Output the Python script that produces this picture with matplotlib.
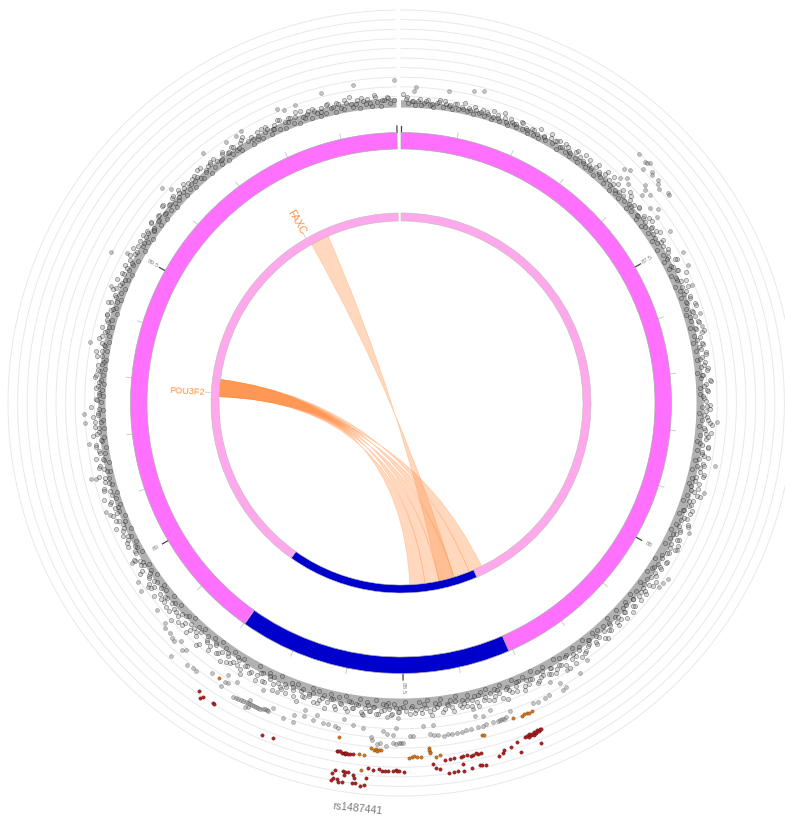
import matplotlib
matplotlib.use("Agg")
import matplotlib.pyplot as plt
import numpy as np
from matplotlib.patches import Wedge, PathPatch
from matplotlib.path import Path

plt.rcParams['font.family'] = ['Liberation Sans', 'DejaVu Sans']

# region, Mb
ticks_mb = [87.0,87.1,87.2,87.3,87.4,87.5,87.6,87.7,87.8,87.9,88.0,88.1,88.2,88.3,88.4,88.5,
            88.6,88.7,88.8,88.9,89.0,89.1,89.2,89.3,89.4,89.5,89.6,89.7,89.8,89.9,90.0]
tick_labels = {87.5:"87.5", 88.0:"88", 88.5:"88.5", 89.0:"89", 89.5:"89.5"}
y_rings = [0,1,2,3,4,5,6,7,8,9,10]

# ideogram segments, degrees clockwise from top
seg_start = [0.0, 156.5, 215.3]
seg_end = [156.5, 215.3, 359.15]
seg_outer = ["#FF70FF", "#0000CC", "#FF70FF"]
seg_inner = ["#FFA8EC", "#0000CC", "#FFA8EC"]

# links
genes = ["POU3F2", "FAXC"]
gene_angle = [273.2, 330.0]
gene_size = [6.6, 7.4]
link_src = [(272.0,277.4),(272.0,277.4),(272.0,277.4),(272.0,277.4),(272.0,277.4),(330.6,336.4)]
link_tgt = [(177.2,172.4),(172.4,167.9),(167.9,163.1),(163.1,158.0),(158.0,153.7),(167.9,163.1)]

# dense base of the track, thickness per sector
core_deg = [0,10,20,30,40,50,60,70,80,90,100,110,120,130,140,150,160,170,180,190,200,210,220,230,240,250,260,270,280,290,300,310,320,330,340,350,359]
core_val = [.6,.5,.5,.6,.7,.7,.8,.8,.6,.6,.7,.8,.8,.8,.8,.7,.8,.9,1.0,.9,.8,.7,.7,.7,.6,.6,.6,.6,.6,.7,.7,.8,.7,.7,.8,.8,.8]

band_deg = [0.3,0.9,1.4,2.1,2.6,3.3,3.8,4.4,5.1,5.6,6.2,6.9,7.3,8.0,8.6,9.1,9.8,10.3,10.9,11.6,12.0,12.7,13.2,13.9,14.4,15.1,15.6,16.2,16.8,17.5,17.9,18.6,19.2,19.7,20.4,20.9,21.6,22.1,22.7,23.4,23.8,24.5,25.1,25.6,26.3,26.8,27.4,28.1,28.6,29.3,
    30.2,30.7,31.4,31.9,32.5,33.2,33.6,34.3,34.9,35.4,36.1,36.6,37.2,37.9,38.3,39.0,39.6,40.1,40.8,41.3,41.9,42.6,43.0,43.7,44.3,44.8,45.5,46.0,46.6,47.3,47.7,48.4,49.0,49.5,50.2,50.7,51.4,51.9,52.5,53.2,53.6,54.3,54.9,55.4,56.1,56.6,57.2,57.9,58.3,59.2,
    60.1,60.6,61.3,61.8,62.4,63.1,63.5,64.2,64.8,65.3,66.0,66.5,67.1,67.8,68.2,68.9,69.5,70.0,70.7,71.2,71.8,72.5,72.9,73.6,74.2,74.7,75.4,75.9,76.5,77.2,77.6,78.3,78.9,79.4,80.1,80.6,81.3,81.8,82.4,83.1,83.5,84.2,84.8,85.3,86.0,86.5,87.1,87.8,88.2,89.1,
    90.4,90.8,91.5,92.0,92.6,93.3,93.7,94.4,95.0,95.5,96.2,96.7,97.3,98.0,98.4,99.1,99.7,100.2,100.9,101.4,102.0,102.7,103.1,103.8,104.4,104.9,105.6,106.1,106.7,107.4,107.8,108.5,109.1,109.6,110.3,110.8,111.5,112.0,112.6,113.3,113.7,114.4,115.0,115.5,116.2,116.7,117.3,118.0,118.4,119.2,
    120.3,120.9,121.4,122.1,122.6,123.3,123.8,124.4,125.1,125.6,126.2,126.9,127.3,128.0,128.6,129.1,129.8,130.3,130.9,131.6,132.0,132.7,133.2,133.9,134.4,135.1,135.6,136.2,136.8,137.5,137.9,138.6,139.2,139.7,140.4,140.9,141.6,142.1,142.7,143.4,143.8,144.5,145.1,145.6,146.3,146.8,147.4,148.1,148.6,149.3,
    150.2,150.7,151.4,151.9,152.5,153.2,153.6,154.3,154.9,155.4,156.1,156.6,157.2,157.9,158.3,159.0,159.6,160.1,160.8,161.3,161.9,162.6,163.0,163.7,164.3,164.8,165.5,166.0,166.6,167.3,167.7,168.4,169.0,169.5,170.2,170.7,171.4,171.9,172.5,173.2,173.6,174.3,174.9,175.4,176.1,176.6,177.2,177.9,178.3,179.2,
    180.1,180.6,181.3,181.8,182.4,183.1,183.5,184.2,184.8,185.3,186.0,186.5,187.1,187.8,188.2,188.9,189.5,190.0,190.7,191.2,191.8,192.5,192.9,193.6,194.2,194.7,195.4,195.9,196.5,197.2,197.6,198.3,198.9,199.4,200.1,200.6,201.3,201.8,202.4,203.1,203.5,204.2,204.8,205.3,206.0,206.5,207.1,207.8,208.2,209.1,
    210.4,210.8,211.5,212.0,212.6,213.3,213.7,214.4,215.0,215.5,216.2,216.7,217.3,218.0,218.4,219.1,219.7,220.2,220.9,221.4,222.0,222.7,223.1,223.8,224.4,224.9,225.6,226.1,226.7,227.4,227.8,228.5,229.1,229.6,230.3,230.8,231.5,232.0,232.6,233.3,233.7,234.4,235.0,235.5,236.2,236.7,237.3,238.0,238.4,239.2,
    240.3,240.9,241.4,242.1,242.6,243.3,243.8,244.4,245.1,245.6,246.2,246.9,247.3,248.0,248.6,249.1,249.8,250.3,250.9,251.6,252.0,252.7,253.2,253.9,254.4,255.1,255.6,256.2,256.8,257.5,257.9,258.6,259.2,259.7,260.4,260.9,261.6,262.1,262.7,263.4,263.8,264.5,265.1,265.6,266.3,266.8,267.4,268.1,268.6,269.3,
    270.2,270.7,271.4,271.9,272.5,273.2,273.6,274.3,274.9,275.4,276.1,276.6,277.2,277.9,278.3,279.0,279.6,280.1,280.8,281.3,281.9,282.6,283.0,283.7,284.3,284.8,285.5,286.0,286.6,287.3,287.7,288.4,289.0,289.5,290.2,290.7,291.4,291.9,292.5,293.2,293.6,294.3,294.9,295.4,296.1,296.6,297.2,297.9,298.3,299.2,
    300.1,300.6,301.3,301.8,302.4,303.1,303.5,304.2,304.8,305.3,306.0,306.5,307.1,307.8,308.2,308.9,309.5,310.0,310.7,311.2,311.8,312.5,312.9,313.6,314.2,314.7,315.4,315.9,316.5,317.2,317.6,318.3,318.9,319.4,320.1,320.6,321.3,321.8,322.4,323.1,323.5,324.2,324.8,325.3,326.0,326.5,327.1,327.8,328.2,329.1,
    330.4,330.8,331.5,332.0,332.6,333.3,333.7,334.4,335.0,335.5,336.2,336.7,337.3,338.0,338.4,339.1,339.7,340.2,340.9,341.4,342.0,342.7,343.1,343.8,344.4,344.9,345.6,346.1,346.7,347.4,347.8,348.5,349.1,349.6,350.3,350.8,351.5,352.0,352.6,353.3,353.7,354.4,355.0,355.5,356.2,356.7,357.3,357.9,358.3,358.9]
band_val = [1.3,.7,.3,.5,.1,.6,.2,.4,.8,.3,.1,.5,.9,.2,.6,.4,.1,.7,.3,.5,1.0,.2,.4,.1,.6,.3,.8,.2,.5,.1,.4,.7,.2,1.1,.3,.1,.6,.4,.2,.9,.3,.5,.1,.7,.2,.4,.1,.6,.3,1.2,
    .4,.8,.1,.5,1.1,.3,.6,.2,.9,.4,.1,1.3,.5,.2,.7,.3,1.0,.1,.6,.4,1.4,.2,.8,.5,.1,1.2,.3,.7,.2,1.5,.4,.9,.1,.6,.3,1.1,.5,.2,.8,1.3,.1,.4,1.0,.3,.7,1.4,.2,.5,.9,.1,
    1.2,.4,.8,.1,1.5,.6,.3,1.0,.2,1.7,.5,.9,.1,1.3,.4,.7,.2,1.1,.6,1.4,.3,.8,.1,1.0,.5,1.2,.2,.7,1.5,.4,.9,.1,1.1,.6,.3,1.3,.8,.2,1.0,.5,1.2,.1,.7,.4,1.4,.9,.3,1.1,.2,.6,1.3,.4,.8,.1,
    1.0,.5,1.3,.2,.8,1.5,.4,1.1,.1,.7,1.4,.3,.9,1.6,.2,1.2,.6,.1,1.0,1.5,.4,.8,.2,1.3,.6,1.7,.3,1.1,.1,.9,1.4,.5,.2,1.2,.7,1.6,.3,1.0,.1,.8,1.3,.4,1.5,.2,.9,1.1,.5,1.4,.1,.7,
    1.2,.3,.9,.1,1.5,.6,1.1,.2,.8,1.4,.4,1.0,.1,.7,1.3,.3,1.6,.5,.9,.2,1.2,.6,1.5,.1,.8,1.1,.4,1.7,.3,1.0,.2,1.4,.6,.9,.1,1.3,.5,1.6,.2,.8,1.1,.4,1.8,.3,1.0,.1,1.5,.7,1.2,.2,
    1.0,.4,1.4,.1,.8,1.2,.3,1.6,.5,.9,.1,1.3,.6,1.8,.2,1.0,.4,1.5,.7,.1,1.2,.3,1.7,.5,.9,.2,1.4,.6,1.1,.1,1.6,.4,.8,1.3,.2,1.0,.5,1.7,.1,.9,1.4,.3,1.1,.6,1.5,.2,.8,1.2,.4,1.6,
    .3,1.1,.5,1.5,.1,.9,1.3,.4,1.7,.2,.8,1.2,.6,1.6,.1,1.0,.4,1.4,.7,.2,1.8,.5,1.1,.3,1.5,.1,.9,1.3,.6,2.0,.2,1.0,.4,1.6,.7,1.2,.1,1.8,.5,.9,.3,1.4,.6,1.7,.2,1.1,.8,1.9,.3,1.3,
    .5,1.5,.2,1.0,1.9,.4,1.3,.1,.8,1.7,.3,1.1,.6,2.1,.2,1.4,.5,.9,1.8,.1,1.2,.4,1.6,.7,2.0,.2,1.0,.5,1.5,.1,.8,1.3,.4,1.7,.2,1.1,.6,1.4,.1,.9,.4,1.6,.2,1.0,.6,1.3,.1,.8,.4,1.2,
    .2,.9,.4,1.2,.1,.7,1.5,.3,.9,.1,1.3,.5,.8,.2,1.1,.4,1.6,.1,.7,1.3,.3,1.0,.5,1.5,.2,.8,1.2,.1,.6,1.4,.3,.9,.1,1.1,.5,.2,1.3,.7,.1,1.0,.4,.2,1.2,.6,.1,1.4,.3,.8,.1,.5,
    .2,.7,.1,.4,1.1,.2,.6,.1,.9,.3,.1,.6,1.3,.2,.5,.8,.1,1.0,.3,.6,1.2,.2,.7,.4,1.0,.1,.8,.3,1.3,.5,.1,.9,.4,1.1,.2,.7,1.4,.3,.9,.1,.6,1.2,.4,1.0,.2,.8,1.3,.1,.5,1.1,
    .3,.8,.1,1.0,.4,.6,1.2,.2,.7,1.0,.1,.5,1.3,.3,.8,.1,1.1,.4,.6,1.2,.2,.9,.3,1.0,.1,.6,1.1,.4,.2,1.3,.7,.1,.9,.4,1.2,.2,.6,1.0,.1,.8,.3,1.1,.5,.2,.9,1.3,.1,.6,.3,1.0,
    .2,.7,1.1,.1,.5,.9,.3,1.2,.1,.6,1.0,.3,.8,.1,1.3,.4,.7,.2,1.1,.5,.1,.9,.3,1.2,.6,.1,1.0,.4,.2,.8,1.4,.3,.6,.1,1.1,.4,.9,.2,1.3,.5,.1,.7,1.0,.3]

# second pass over the thick part of the band
band2_deg = [1.1,2.3,3.6,4.8,5.9,7.1,8.3,9.4,10.6,11.8,13.0,14.1,15.3,16.5,17.7,18.8,20.0,21.2,22.4,23.5,24.7,25.9,27.1,28.3,29.4,
    30.5,31.2,32.2,33.1,34.0,35.1,36.0,37.0,37.8,38.9,39.8,40.6,41.6,42.4,43.3,44.1,45.1,46.2,47.0,47.9,48.8,49.7,50.5,51.6,52.3,53.4,54.1,55.0,56.0,57.0,58.0,59.0,
    60.4,61.5,62.2,63.4,64.4,65.5,66.7,67.5,68.6,69.7,70.5,71.6,72.7,73.5,74.6,75.7,76.7,77.9,78.7,79.8,80.9,81.7,82.8,83.9,84.6,85.7,86.8,87.5,88.7,89.7,
    90.6,91.2,92.3,93.1,94.0,94.8,95.8,96.4,97.6,98.2,99.3,100.0,100.6,101.7,102.3,103.4,104.1,105.2,105.9,106.9,107.5,108.8,109.3,110.6,111.1,112.2,113.0,113.9,114.7,115.8,116.4,117.6,118.2,119.4,
    120.6,121.1,122.3,123.0,124.1,124.8,125.9,126.6,127.6,128.3,129.4,130.1,131.2,131.9,133.0,133.6,134.7,135.4,136.5,137.2,138.3,139.0,140.1,140.7,141.8,142.5,143.6,144.3,145.4,146.0,147.1,147.8,148.9,149.6,
    150.4,151.1,152.2,152.9,153.9,154.6,155.7,156.3,157.5,158.1,159.3,159.9,161.0,161.6,162.3,163.4,164.1,165.2,165.8,166.9,167.5,168.1,168.7,169.8,170.4,171.1,172.2,172.8,173.9,174.6,175.7,176.3,177.5,178.1,179.0,179.6,
    180.4,181.0,181.6,182.2,182.8,183.7,184.5,185.0,185.7,186.3,186.8,187.4,188.5,189.2,189.8,190.4,191.5,192.2,193.3,193.9,195.0,195.7,196.8,197.4,198.6,199.2,200.3,200.9,202.0,202.7,203.8,204.5,205.6,206.2,207.4,208.0,209.4,
    210.6,211.2,212.3,213.0,214.1,214.7,215.8,216.5,217.6,218.2,219.3,220.0,221.1,221.8,222.9,223.5,224.6,225.3,226.4,227.1,228.2,228.8,229.9,230.6,231.7,232.4,233.5,234.2,235.2,235.9,237.0,237.7,238.8,239.5,
    240.6,241.8,242.9,244.1,245.3,246.5,247.6,248.8,249.9,251.1,252.3,253.5,254.7,255.8,257.0,258.1,259.3,260.6,261.8,263.0,264.1,265.3,266.5,267.7,268.9,
    270.5,271.6,272.8,274.0,275.2,276.3,277.5,278.7,279.8,281.0,282.2,283.4,284.5,285.7,286.9,288.1,289.2,290.4,291.6,292.8,294.0,295.1,296.3,297.5,298.7,299.8,
    300.8,301.9,303.0,303.9,305.0,305.8,306.9,307.6,308.7,309.7,310.5,311.5,312.2,313.3,314.0,315.1,316.2,316.9,318.0,318.7,319.8,320.9,321.6,322.7,323.8,324.5,325.6,326.7,327.5,328.6,329.7,
    330.6,331.8,332.9,334.0,335.2,336.4,337.6,338.7,339.9,341.1,342.3,343.5,344.6,345.8,347.0,348.2,349.3,350.5,351.7,352.9,354.1,355.2,356.4,357.6,358.7]
band2_val = [.9,.5,.8,.6,.4,.7,.9,.5,.8,.4,.6,.9,.5,.7,1.0,.4,.6,.8,.5,.9,.4,.7,1.1,.5,.8,
    .7,1.0,.6,.9,.5,1.2,.8,.6,1.1,.5,1.3,.7,1.0,.6,1.4,.8,.5,1.1,.7,1.3,.6,.9,1.2,.5,1.0,.7,1.4,.8,1.1,.6,1.2,.9,
    1.0,.6,1.3,.8,1.1,.5,1.4,.7,1.0,1.2,.6,1.5,.9,.5,1.1,.7,1.3,.6,1.0,.8,1.2,.5,.9,1.1,.6,1.3,.7,1.0,.5,.8,
    .9,1.3,.6,1.1,1.5,.7,1.0,1.2,.5,1.4,.8,1.1,.6,1.3,.9,1.5,.7,1.2,.5,1.0,1.4,.8,1.1,.6,1.3,.9,1.5,.7,1.1,.5,1.2,.8,1.4,.9,
    .7,1.3,1.0,.5,1.2,.8,1.5,.6,1.1,.9,1.4,.7,1.2,.5,1.0,1.6,.8,1.1,.6,1.3,.9,1.5,.7,1.2,.5,1.0,1.4,.8,1.1,1.7,.6,1.3,.9,1.2,
    .8,1.3,.6,1.1,1.5,.9,.7,1.2,.5,1.4,1.0,.8,1.6,.6,1.1,1.3,.9,.5,1.2,1.5,.7,1.0,1.4,.6,1.2,.9,1.6,.7,1.1,1.3,.5,1.0,1.4,.8,1.2,.7,
    1.3,.8,1.5,1.0,.6,1.2,1.6,.9,1.3,.7,1.1,1.5,.8,1.2,.6,1.4,1.0,1.7,.7,1.2,.9,1.5,.6,1.1,1.3,.8,1.6,.7,1.0,1.4,.9,1.2,.6,1.5,.8,1.1,1.3,
    .9,1.4,.7,1.2,1.6,.8,1.0,1.5,.6,1.3,.9,1.8,.7,1.1,1.4,.8,1.6,.6,1.2,1.0,1.5,.7,1.3,.9,1.1,.6,1.4,.8,1.0,.6,1.2,.7,.9,1.3,
    .8,.5,1.1,.7,.9,.6,1.2,.8,.5,1.0,.7,1.3,.6,.9,.5,1.1,.7,.8,1.2,.5,.9,.6,1.0,.7,.5,
    .7,.5,.9,.6,1.0,.8,.5,1.1,.7,.6,1.2,.8,.5,.9,1.1,.6,1.0,.7,1.3,.8,.5,1.1,.9,.6,1.2,.7,
    .9,.6,1.1,.8,.5,1.2,.7,1.0,.6,1.3,.8,.5,1.1,.9,.7,1.2,.6,1.0,.8,1.3,.5,.9,1.1,.7,.6,1.2,.8,1.0,.5,1.1,.7,
    .9,.6,1.1,.8,.5,1.2,.7,.9,1.3,.6,1.0,.8,.5,1.1,.7,.9,1.2,.6,1.0,.8,.5,1.1,.7,.9,.6]

# single points standing off the band
gray_deg = [358.8,351.4,345.5,8.8,13.2,14.9,2.8,2.4,43.7,45.4,46.0,45.7,46.0,47.3,47.8,49.1,49.6,50.4,51.8,52.1,48.9,50.1,49.2,48.2,43.6,44.5,44.2,46.0,45.1,51.9,54.0,53.0,57.4,61.8,64.3,67.9,73.2,75.6,101.3,93.4,106.5,114.3,118.0,123.4,124.5,125.5,
    229.7,227.0,226.4,225.1,224.3,223.6,222.8,221.6,221.1,222.2,219.2,218.1,217.5,215.0,211.7,212.4,268.0,266.4,262.5,256.2,256.0,249.8,248.9,239.2,235.8,234.1,234.0,297.5,281.0,298.7,292.0,321.6,312.0,312.9,326.2,328.3,329.5,337.1,338.2,340.4,
    209.7,209.2,208.8,208.3,207.9,207.4,207.0,206.6,206.3,205.9,205.5,205.1,204.7,204.3,204.0,203.6,203.3,207.2,206.8,
    200.5,198.7,197.3,195.5,193.6,192.8,191.5,191.0,188.4,186.6,185.2,184.9,184.1,183.6,182.5,181.4,180.9,180.4,180.0,179.6,183.1,182.4,181.3,178.5,177.9,175.0,174.4,173.6,172.7,172.0,171.2,170.4,169.5,168.8,167.9,166.6,165.8,165.2,163.9,163.1,162.7,162.3,161.9,161.5,156.2,155.4,154.0,153.1,150.5,149.8,
    165.3,160.6,166.7,163.8,166.7,174.3,176.1,180.8,180.5,182.6,186.9,190.3,195.1,197.4,199.0,202.7,203.3,205.7,207.0,210.5,212.3,212.4,151.9,148.2,146.5,144.2,150.4]
gray_val = [2.7,2.6,2.4,1.9,2.4,2.7,2.0,1.6,4.9,4.8,5.1,4.9,4.1,4.6,4.4,4.5,4.2,4.0,4.4,4.4,2.8,2.9,2.2,3.2,2.7,3.1,1.8,1.9,2.3,2.0,2.0,2.6,2.3,2.4,2.2,1.8,1.6,1.4,2.4,2.0,2.0,2.0,1.6,2.4,2.2,2.1,
    2.4,2.7,3.0,3.0,3.2,3.3,2.8,3.4,3.2,4.7,4.3,4.1,4.2,3.4,3.3,4.0,2.1,2.0,1.8,2.3,1.8,1.8,1.5,1.7,2.2,2.5,1.6,3.1,2.1,1.6,1.6,2.3,2.5,1.8,1.8,1.8,2.0,2.3,1.9,2.0,
    4.3,4.3,4.2,4.2,4.2,4.2,4.1,4.1,4.2,4.1,4.1,4.1,4.1,4.0,4.0,4.0,4.0,4.7,4.5,
    4.1,4.1,3.2,3.3,3.4,3.3,3.4,3.5,3.0,3.1,4.0,4.3,4.7,4.6,4.8,4.5,4.6,4.5,4.5,4.5,3.3,3.6,3.7,3.75,3.8,3.7,3.8,3.9,4.0,3.9,3.9,3.9,3.9,3.8,3.8,3.8,3.8,3.7,3.7,3.7,3.7,3.6,3.7,3.6,3.2,3.3,3.3,3.2,3.4,3.3,
    2.8,3.1,2.6,2.4,1.8,2.8,2.8,2.9,1.9,1.8,1.8,2.5,2.7,2.6,3.4,3.5,1.8,2.2,3.8,2.8,3.4,2.6,2.0,1.8,2.8,2.1,2.6]

orange_deg = [190.5,184.9,184.5,184.2,183.9,183.6,183.3,186.8,186.0,186.2,178.7,178.3,177.9,177.4,176.7,175.3,175.4,175.2,175.3,174.3,173.7,166.3,165.9,160.4,158.9,158.4,157.9,157.5,157.0,213.5]
orange_val = [4.4,5.1,5.3,5.2,5.4,5.3,5.3,5.9,5.9,7.5,6.0,6.0,5.9,6.0,6.0,5.1,5.3,5.5,5.6,6.1,5.9,4.7,4.7,3.9,4.0,3.9,3.9,4.0,3.9,3.4]

red_deg = [215.1,214.3,214.0,212.1,211.8,202.7,200.9,
    190.5,190.2,189.9,189.6,189.3,189.1,189.0,188.9,188.6,188.3,187.7,
    185.1,184.3,183.5,183.0,182.5,182.0,181.2,180.8,180.7,180.3,179.6,
    190.2,190.5,189.0,188.6,188.1,188.7,187.4,187.2,190.2,190.5,189.7,189.5,188.8,187.4,186.9,186.1,185.5,185.3,
    173.0,172.2,171.5,170.4,170.0,169.4,168.8,168.4,167.9,167.6,167.2,
    172.6,171.8,171.2,170.3,170.3,169.0,167.7,167.4,166.8,175.0,174.6,173.9,
    164.4,163.7,163.5,162.2,161.2,161.0,157.6,
    159.6,159.3,159.0,158.9,158.6,158.4,158.2,158.0,157.8,157.6,157.4,157.2,157.0,156.8]
red_val = [5.7,6.2,6.0,5.9,6.0,6.6,6.4,
    5.9,5.9,5.9,6.0,6.0,6.0,6.1,6.0,6.0,6.0,6.0,
    7.2,7.4,7.3,7.4,7.4,7.4,7.4,7.3,7.4,7.4,7.5,
    7.9,8.3,7.9,7.9,7.9,8.3,8.1,8.4,8.8,9.0,8.8,9.1,9.0,9.0,8.9,9.2,9.0,8.3,
    6.5,6.5,6.5,6.5,6.4,6.4,6.5,6.5,6.4,6.5,6.5,
    7.9,7.9,7.9,7.9,7.2,7.8,7.7,7.7,7.8,6.8,7.3,7.4,
    7.2,7.0,6.8,6.7,6.4,7.5,7.4,
    6.2,6.1,6.3,6.0,6.2,6.1,6.3,6.0,6.2,6.1,6.0,6.1,6.0,6.0]

lead_snp = "rs1487441"
lead_deg = 186.2

# layout, px
r_track = 297
r_unit = 9.6
ideo_r = (254, 270.5)
link_r = (182, 190)


def xy(deg, r):
    t = np.radians(np.asarray(deg))
    return r * np.sin(t), r * np.cos(t)


def arc(a, b, r):
    return np.array(xy(np.linspace(a, b, 30), r)).T


def radial_rot(deg):
    rot = 90 - deg
    return rot + 180 if 180 < deg < 360 else rot


def track_xy(deg, val):
    n = min(len(deg), len(val))
    return xy(deg[:n], r_track + r_unit * np.array(val[:n]))


fig = plt.figure(figsize=(7.85, 8.21), dpi=100)
ax = fig.add_axes([0, 0, 1, 1])
ax.set_xlim(-401, 384)
ax.set_ylim(-418, 403)
ax.axis('off')

for v in y_rings[1:]:
    x, y = xy(np.linspace(0, 359.15, 400), r_track + r_unit * v)
    ax.plot(x, y, color="#E8E8E8", lw=0.7, zorder=1)

for a, b, c1, c2 in zip(seg_start, seg_end, seg_outer, seg_inner):
    ax.add_patch(Wedge((0, 0), ideo_r[1], 90 - b, 90 - a, width=ideo_r[1] - ideo_r[0],
                       facecolor=c1, edgecolor="#AAAAAA", lw=0.5, zorder=3))
    ax.add_patch(Wedge((0, 0), link_r[1], 90 - b, 90 - a, width=link_r[1] - link_r[0],
                       facecolor=c2, edgecolor="#BBBBBB", lw=0.4, zorder=3))

for mb in ticks_mb:
    a = (mb - 87) * 359.15 / 3
    major = mb in tick_labels or mb in (87.0, 90.0)
    x, y = xy([a, a], np.array([ideo_r[1], ideo_r[1] + (6.5 if major else 5.5)]))
    ax.plot(x, y, color="#444444" if major else "#CCCCCC", lw=0.9 if major else 0.7, zorder=2)
    if mb in tick_labels:
        x, y = xy(a, 285)
        ax.text(x, y, tick_labels[mb], fontsize=4.6, color="#888888", rotation=radial_rot(a),
                rotation_mode='anchor', ha='center', va='center', zorder=4)

# links
for (s1, s2), (t1, t2) in zip(link_src, link_tgt):
    r = link_r[0]
    verts = list(arc(s1, s2, r))
    codes = [Path.MOVETO] + [Path.LINETO] * (len(verts) - 1)
    verts += [(0, 0), xy(t1, r)]
    codes += [Path.CURVE3, Path.CURVE3]
    verts += list(arc(t1, t2, r))[1:]
    codes += [Path.LINETO] * 29
    verts += [(0, 0), xy(s1, r)]
    codes += [Path.CURVE3, Path.CURVE3]
    ax.add_patch(PathPatch(Path(verts, codes), facecolor="#FF8A3C", edgecolor="#FF8A3C",
                           alpha=0.33, lw=0.5, zorder=2))

for g, a, fs in zip(genes, gene_angle, gene_size):
    rot = radial_rot(a)
    x, y = xy(a, 214 if g == "POU3F2" else 209)
    ax.text(x, y, g, fontsize=fs, color="#FF9040", rotation=rot, rotation_mode='anchor',
            ha='center', va='center', zorder=4)
    x, y = xy([a, a], np.array([191, 196]))
    ax.plot(x, y, color="#BBBBBB", lw=0.5, zorder=2)

# track
grid_deg = np.linspace(0, 359.15, 300)
cx, cy = xy(grid_deg, r_track + r_unit * np.interp(grid_deg, core_deg, core_val))
bx, by = xy(grid_deg, np.full(len(grid_deg), r_track - 1.5))
ax.fill(np.r_[cx, bx[::-1]], np.r_[cy, by[::-1]], color="#333333", alpha=0.38, lw=0, zorder=4)

x, y = track_xy(band_deg, band_val)
ax.scatter(x, y, s=9, facecolor=(0.5, 0.5, 0.5, 0.3), edgecolor=(0, 0, 0, 0.5), lw=0.4, zorder=5)
x, y = track_xy(band2_deg, band2_val)
ax.scatter(x, y, s=9, facecolor=(0.5, 0.5, 0.5, 0.3), edgecolor=(0, 0, 0, 0.5), lw=0.4, zorder=5)
x, y = track_xy(gray_deg, gray_val)
ax.scatter(x, y, s=8, facecolor=(0.5, 0.5, 0.5, 0.45), edgecolor=(0, 0, 0, 0.35), lw=0.4, zorder=5)
x, y = track_xy(orange_deg, orange_val)
ax.scatter(x, y, s=6, facecolor="#D2761E", edgecolor=(0.3, 0.15, 0, 0.6), lw=0.3, zorder=6)
x, y = track_xy(red_deg, red_val)
ax.scatter(x, y, s=6, facecolor="#B22222", edgecolor=(0.2, 0, 0, 0.7), lw=0.3, zorder=6)

x, y = xy(lead_deg, 408)
ax.text(x, y, lead_snp, fontsize=7.6, color="#777777", rotation=180 - lead_deg,
        rotation_mode='anchor', ha='center', va='center')

plt.savefig('out.png', dpi=100)
